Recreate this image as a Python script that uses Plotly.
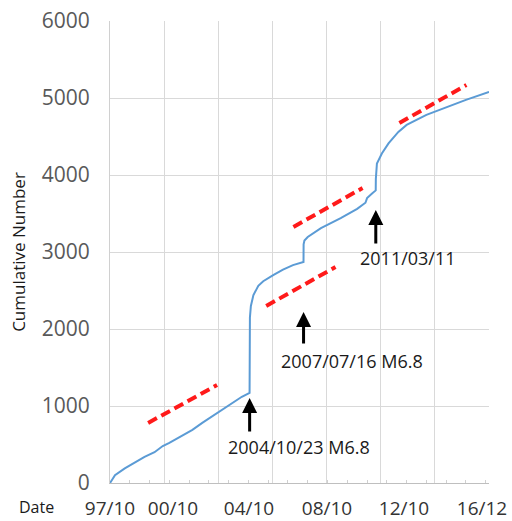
import plotly.graph_objects as go

# Cumulative number
dates = ["1997-10-01", "1997-11-15", "1998-01-01", "1998-07-01", "1999-01-01", "1999-07-01",
         "2000-01-01", "2000-06-01", "2000-10-01", "2001-06-01", "2001-12-01", "2002-06-01",
         "2003-01-01", "2003-07-01", "2004-01-01", "2004-06-01", "2004-10-22", "2004-10-24",
         "2004-10-28", "2004-11-15", "2005-01-01", "2005-04-01", "2005-07-01", "2006-01-01",
         "2006-07-01", "2007-01-01", "2007-07-15", "2007-07-17", "2007-08-01", "2007-10-01",
         "2008-06-01", "2009-06-01", "2010-04-01", "2010-09-01", "2010-10-01", "2011-01-01",
         "2011-03-10", "2011-03-12", "2011-04-01", "2011-07-01", "2011-11-01", "2012-05-01",
         "2012-10-01", "2013-10-01", "2014-10-01", "2015-10-01", "2016-11-30"]
cumulative = [0, 50, 100, 190, 270, 340,
              400, 480, 520, 620, 690, 780,
              880, 960, 1050, 1120, 1170, 1800,
              2150, 2300, 2440, 2560, 2620, 2700,
              2770, 2830, 2870, 3100, 3150, 3195,
              3310, 3440, 3560, 3640, 3700, 3760,
              3800, 3950, 4150, 4280, 4410, 4560,
              4650, 4780, 4880, 4975, 5080]

# Red dashed trend segments
trend_dates = [["1999-09-05", "2003-03-01"], ["2005-08-25", "2009-02-25"],
               ["2007-01-10", "2010-07-10"], ["2012-05-20", "2015-10-10"]]
trend_values = [[780, 1273], [2299, 2805], [3325, 3831], [4675, 5169]]

# Earthquake events
event_dates = ["2004-10-23", "2007-07-16", "2011-03-11"]
event_labels = ["2004/10/23 M6.8", "2007/07/16 M6.8", "2011/03/11"]
arrow_head = [1104, 2221, 3546]
arrow_tail = [649, 1792, 3091]
label_values = [468, 1585, 2922]
label_shift = [49, 48, 32]

# Tick labels
tick_dates = ["1997-10-01", "2000-12-08", "2004-10-11", "2008-09-21", "2012-08-13", "2016-07-24"]
tick_labels = ["97/10", "00/10", "04/10", "08/10", "12/10", "16/12"]
y_ticks = [0, 1000, 2000, 3000, 4000, 5000, 6000]

x_range = ["1997-10-01", "2016-11-30"]
FONT = "Open Sans"

fig = go.Figure()
fig.add_trace(go.Scatter(x=dates, y=cumulative, mode="lines",
                         line=dict(color="#5b9bd5", width=2), showlegend=False,
                         hoverinfo="skip"))
for td, tv in zip(trend_dates, trend_values):
    fig.add_trace(go.Scatter(x=td, y=tv, mode="lines",
                             line=dict(color="#ff1a1a", width=4, dash="10px,5px"),
                             showlegend=False, hoverinfo="skip"))

# dummy trace on xaxis2 to activate it
fig.add_trace(go.Scatter(x=x_range, y=[None, None], xaxis="x2", showlegend=False,
                         hoverinfo="skip"))

for d, h, t, lv, sh, lab in zip(event_dates, arrow_head, arrow_tail, label_values,
                                label_shift, event_labels):
    fig.add_annotation(x=d, y=h, ax=d, ay=t, xref="x", yref="y", axref="x", ayref="y",
                       showarrow=True, arrowhead=2, arrowsize=1, arrowwidth=3,
                       arrowcolor="black", text="")
    fig.add_annotation(x=d, y=lv, xref="x", yref="y", text=lab, showarrow=False,
                       xanchor="center", yanchor="middle", xshift=sh,
                       font=dict(family=FONT, size=18, color="#1a1a1a"))

fig.add_annotation(x=-0.193, y=-0.052, xref="paper", yref="paper", text="Date",
                   showarrow=False, xanchor="center", yanchor="middle",
                   font=dict(family=FONT, size=16, color="#1a1a1a"))

fig.update_layout(
    width=512, height=521,
    margin=dict(l=110, r=23, t=21, b=38),
    paper_bgcolor="white", plot_bgcolor="white",
    font=dict(family=FONT),
    xaxis=dict(type="date", range=x_range, tick0=x_range[0], dtick=1000 * 86400000,
               showgrid=True, gridcolor="#d9d9d9", gridwidth=1, automargin=False,
               showticklabels=False, showline=True, linecolor="#bfbfbf", linewidth=1,
               zeroline=False,
               minor=dict(dtick="M12", tick0="1997-10-01", ticks="inside", ticklen=3,
                          tickcolor="#d0d0d0", showgrid=False)),
    xaxis2=dict(type="date", range=x_range, overlaying="x", side="bottom", anchor="y",
                tickvals=tick_dates, ticktext=tick_labels, showgrid=False, ticks="",
                showline=False, zeroline=False, ticklabelstandoff=12, tickangle=0,
                automargin=False,
                tickfont=dict(family=FONT, size=19, color="#333333")),
    yaxis=dict(range=[0, 6000], tickvals=y_ticks, showgrid=True, gridcolor="#d9d9d9",
               showline=True, linecolor="#d0d0d0", zeroline=False, ticks="",
               ticklabelstandoff=15, automargin=False,
               tickfont=dict(family=FONT, size=21, color="#595959"),
               title=dict(text="Cumulative Number", standoff=11,
                          font=dict(family=FONT, size=17, color="#1a1a1a"))),
)

fig.write_html("out.html", config={"displayModeBar": False},
               post_script="document.body.style.margin='0px';")
